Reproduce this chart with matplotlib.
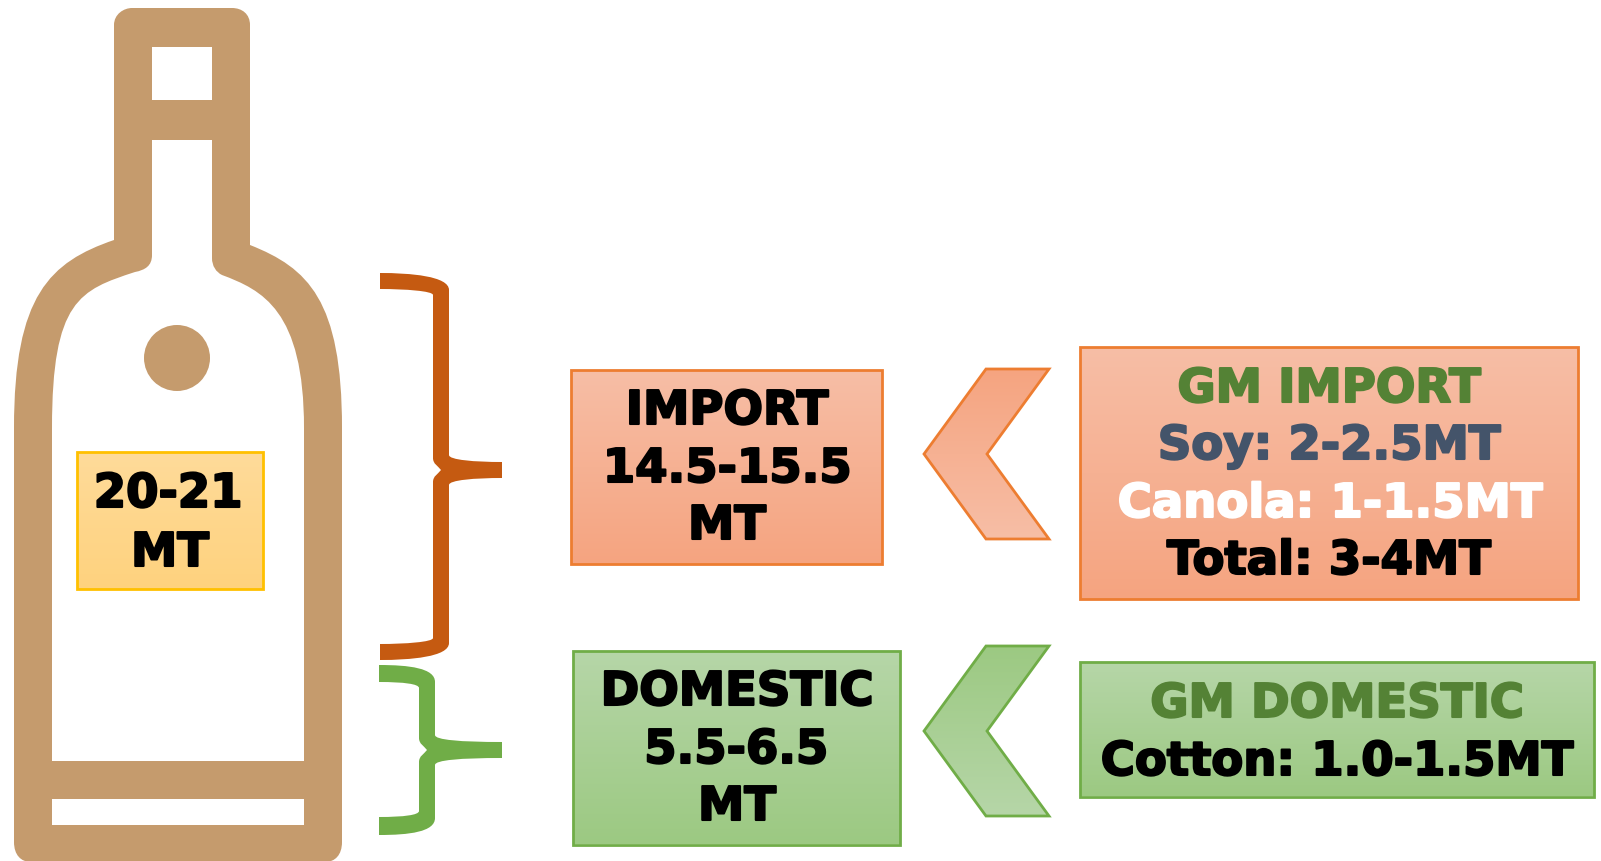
import numpy as np
import matplotlib
matplotlib.use("Agg")
import matplotlib.pyplot as plt
from matplotlib.path import Path
from matplotlib.patches import PathPatch, Polygon, Rectangle, Circle
from matplotlib.colors import LinearSegmentedColormap
import matplotlib.patheffects as pe

# --- content ---
total_lines = ["20-21", "MT"]
import_lines = ["IMPORT", "14.5-15.5", "MT"]
domestic_lines = ["DOMESTIC", "5.5-6.5", "MT"]
gm_import_lines = ["GM IMPORT", "Soy: 2-2.5MT", "Canola: 1-1.5MT", "Total: 3-4MT"]
gm_domestic_lines = ["GM DOMESTIC", "Cotton: 1.0-1.5MT"]
gm_import_colors = ["#548235", "#44546A", "#FFFFFF", "#000000"]
gm_domestic_colors = ["#548235", "#000000"]

TAN = "#C59B6D"
ORANGE_EDGE, GREEN_EDGE, GOLD_EDGE = "#ED7D31", "#70AD47", "#FFC000"
BRACE_ORANGE, BRACE_GREEN = "#C55A11", "#70AD47"
ORANGE_G = ("#F7BEA6", "#F5A480")
GREEN_G = ("#B6D6A8", "#9CC982")
GOLD_G = ("#FEDB9A", "#FFD27E")

fig = plt.figure(figsize=(16.01, 8.62), dpi=100)
ax = fig.add_axes([0, 0, 1, 1])
XLIM, YLIM = (0, 1601), (861, -1)
ax.set_xlim(*XLIM)
ax.set_ylim(*YLIM)
ax.axis("off")


def gradient_patch(patch, colors, extent):
    """Vertical gradient clipped to a patch. extent = x0, x1, y0, y1 in pixels."""
    ax.add_patch(patch)
    cmap = LinearSegmentedColormap.from_list("g", colors)
    im = ax.imshow(np.linspace(0, 1, 256)[:, None], cmap=cmap, aspect="auto",
                   extent=(extent[0], extent[1], extent[3], extent[2]),
                   zorder=1, interpolation="bilinear")
    im.set_clip_path(patch)
    ax.set_xlim(*XLIM)
    ax.set_ylim(*YLIM)


def box(x0, y0, x1, y1, colors, edge, lw=2):
    r = Rectangle((x0, y0), x1 - x0, y1 - y0, facecolor="none", edgecolor="none")
    gradient_patch(r, colors, (x0, x1, y0, y1))
    ax.add_patch(Rectangle((x0, y0), x1 - x0, y1 - y0, facecolor="none",
                           edgecolor=edge, linewidth=lw, zorder=2))


def chevron(y0, y1, colors, edge):
    ym = (y0 + y1) / 2
    pts = [(1049, y0), (986, y0), (924, ym), (986, y1), (1049, y1), (987, ym)]
    gradient_patch(Polygon(pts, closed=True, facecolor="none", edgecolor="none"),
                   colors, (924, 1049, y0, y1))
    ax.add_patch(Polygon(pts, closed=True, facecolor="none", edgecolor=edge,
                         linewidth=2, joinstyle="miter", zorder=2))


def label(lines, xs, baselines, colors=None):
    for i, s in enumerate(lines):
        c = colors[i] if colors else "black"
        ax.text(xs[i], baselines[i], s, ha="center", va="baseline", color=c,
                fontsize=33.5, fontfamily="DejaVu Sans", fontweight="bold", zorder=3,
                path_effects=[pe.withStroke(linewidth=1.5, foreground=c)])


M, L, C, Z = Path.MOVETO, Path.LINETO, Path.CURVE4, Path.CLOSEPOLY


def add(verts, codes, seq):
    for code, *p in seq:
        if code == C:
            verts.extend([p[0], p[1], p[2]])
            codes.extend([C, C, C])
        else:
            verts.append(p[0])
            codes.append(code)


def outline(seq, color):
    verts, codes = [], []
    add(verts, codes, seq)
    ax.add_patch(PathPatch(Path(verts, codes), facecolor=color, edgecolor="none", zorder=2))


def brace(x0, vl, vr, xe, t0, t1, mid, b0, b1, color, half=8):
    """Tapered curly brace outline: t0-t1 top arm, b0-b1 bottom arm, half = half arm height."""
    tip = (vl + 8, mid)
    outline([
        (M, (x0, t0)), (C, (x0 + 30, t0), (vr, t0 + 3), (vr, t0 + 17)),
        (L, (vr, mid - half - 7)),
        (C, (vr, mid - half - 2), (vr + 26, mid - half), (xe, mid - half)),
        (L, (xe, mid + half)),
        (C, (vr + 26, mid + half), (vr, mid + half + 2), (vr, mid + half + 7)),
        (L, (vr, b1 - 17)), (C, (vr, b1 - 3), (x0 + 30, b1), (x0, b1)),
        (L, (x0, b0)), (C, (x0 + 25, b0), (vl, b0 - 2), (vl, b0 - 6)),
        (L, (vl, mid + half + 4)), (C, (vl, mid + 6), (vl + 5, mid + 4), tip),
        (C, (vl + 5, mid - 4), (vl, mid - 6), (vl, mid - half - 4)),
        (L, (vl, t1 + 6)), (C, (vl, t1 + 2), (x0 + 25, t1), (x0, t1)),
        (Z, (x0, t0)),
    ], color)


# --- bottle ---
verts, codes = [], []
add(verts, codes, [
    (M, (114, 25)), (C, (114, 14), (124, 8), (132, 8)), (L, (232, 8)),
    (C, (242, 8), (250, 14), (250, 25)), (L, (250, 245)),
    (C, (308, 268), (342, 300), (342, 428)), (L, (342, 842)),
    (C, (342, 855), (335, 862), (325, 862)), (L, (31, 862)),
    (C, (21, 862), (14, 855), (14, 842)), (L, (14, 428)),
    (C, (14, 295), (50, 262), (114, 240)), (Z, (114, 25))])
# holes, drawn in the opposite direction
add(verts, codes, [(M, (152, 47)), (L, (152, 100)), (L, (212, 100)), (L, (212, 47)), (Z, (152, 47))])
add(verts, codes, [
    (M, (152, 140)), (L, (152, 255)), (C, (152, 266), (145, 270), (135, 272)),
    (C, (80, 290), (52, 300), (52, 428)), (L, (52, 761)), (L, (304, 761)),
    (L, (304, 428)), (C, (304, 310), (262, 290), (222, 275)),
    (C, (216, 272), (212, 266), (212, 258)), (L, (212, 140)), (Z, (152, 140))])
add(verts, codes, [(M, (52, 799)), (L, (52, 825)), (L, (304, 825)), (L, (304, 799)), (Z, (52, 799))])
ax.add_patch(PathPatch(Path(verts, codes), facecolor=TAN, edgecolor="none", zorder=2))
ax.add_patch(Circle((177, 358), 33, facecolor=TAN, edgecolor="none", zorder=2))

box(76.5, 452, 263, 589, GOLD_G, GOLD_EDGE)
label(total_lines, [168, 170], [507, 566])

# --- braces ---
brace(380, 433, 449, 502, 273, 289, 470, 644, 660, BRACE_ORANGE)
brace(379, 419, 435, 502, 665, 682, 750, 817, 835, BRACE_GREEN)

# --- boxes ---
box(570.5, 369.5, 882, 563.5, ORANGE_G, ORANGE_EDGE)
label(import_lines, [727, 727, 727], [424, 482, 539])
box(572.5, 650.5, 900, 844.5, GREEN_G, GREEN_EDGE)
label(domestic_lines, [737, 736, 737], [705, 763, 820])

chevron(369, 539, ORANGE_G[::-1], ORANGE_EDGE)
chevron(646, 816, GREEN_G[::-1], GREEN_EDGE)

box(1080, 346.5, 1578, 598.5, ORANGE_G, ORANGE_EDGE)
label(gm_import_lines, [1329, 1329, 1330, 1329], [402, 459, 517, 574], gm_import_colors)
box(1080, 661.5, 1594, 796.5, GREEN_G, GREEN_EDGE)
label(gm_domestic_lines, [1337, 1337], [717, 775], gm_domestic_colors)

fig.savefig("out.png", dpi=100, facecolor="white")
